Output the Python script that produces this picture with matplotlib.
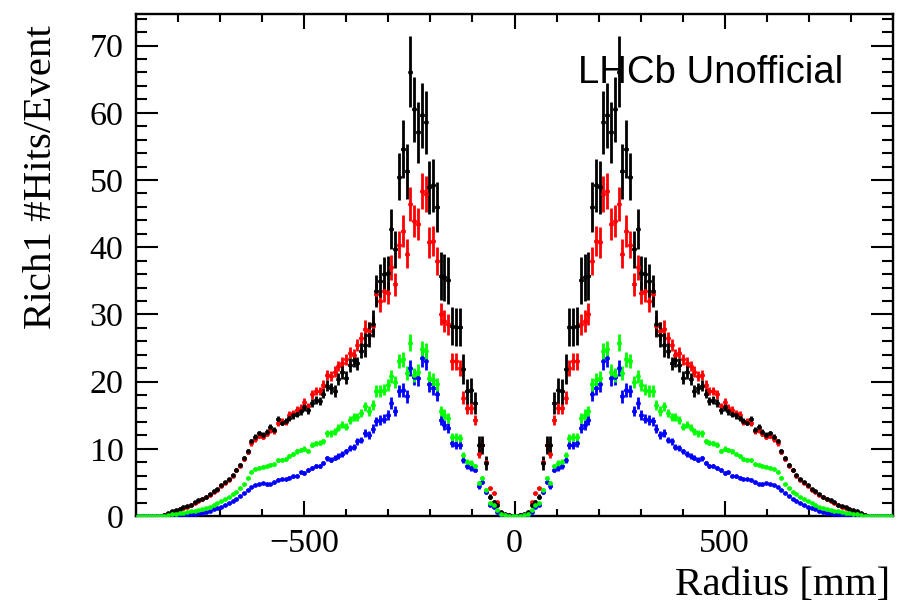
import numpy as np
import matplotlib
matplotlib.use("Agg")
import matplotlib.pyplot as plt
from matplotlib.ticker import MultipleLocator

# ---------------- data (Rich1 hits per event vs radius, 200 bins of 9 mm) ----------------
x_min, x_max, n_bins = -900.0, 900.0, 200

black_vals = [
    0, 0, 0, 0, 0, 0, 0, 0.1, 0.4, 0.7,
    0.9, 1.1, 1.3, 1.5, 1.7, 2.1, 2.4, 2.6, 2.9, 3.3,
    3.7, 4.0, 4.6, 5.1, 5.5, 6.1, 6.9, 7.6, 8.6, 9.6,
    11.1, 11.8, 12.3, 12.1, 12.5, 13.3, 12.8, 14.5, 13.9, 14.1,
    14.6, 15.0, 15.2, 15.6, 16.2, 15.7, 16.8, 17.3, 17.1, 18.2,
    19.4, 19.0, 18.6, 20.4, 21.4, 20.6, 22.5, 23.2, 22.7, 24.6,
    25.5, 27.0, 28.6, 33.5, 35.0, 36.0, 36.1, 42.7, 39.7, 50.5,
    54.6, 51.3, 66.1, 60.5, 57.1, 59.6, 58.6, 48.9, 49.2, 46.0,
    35.7, 35.5, 35.1, 28.3, 28.1, 28.1, 21.9, 18.6, 18.7, 16.8,
    10.6, 10.6, 7.9, 2.9, 2.1, 1.6, 0.6, 0.3, 0.1, 0.0,
    0.0, 0.1, 0.3, 0.6, 1.6, 2.1, 2.9, 7.9, 10.6, 10.6,
    16.8, 18.7, 18.6, 21.9, 28.1, 28.1, 28.3, 35.1, 35.5, 35.7,
    46.0, 49.2, 48.9, 58.6, 59.6, 57.1, 60.5, 66.1, 51.3, 54.6,
    50.5, 39.7, 42.7, 36.1, 36.0, 35.0, 33.5, 28.6, 27.0, 25.5,
    24.6, 22.7, 23.2, 22.5, 20.6, 21.4, 20.4, 18.6, 19.0, 19.4,
    18.2, 17.1, 17.3, 16.8, 15.7, 16.2, 15.6, 15.2, 15.0, 14.6,
    14.1, 13.9, 14.5, 12.8, 13.3, 12.5, 12.1, 12.3, 11.8, 11.1,
    9.6, 8.6, 7.6, 6.9, 6.1, 5.5, 5.1, 4.6, 4.0, 3.7,
    3.3, 2.9, 2.6, 2.4, 2.1, 1.7, 1.5, 1.3, 1.1, 0.9,
    0.7, 0.4, 0.1, 0, 0, 0, 0, 0, 0, 0,
]

red_vals = [
    0, 0, 0, 0, 0, 0, 0, 0.1, 0.3, 0.6,
    0.8, 1.0, 1.2, 1.4, 1.6, 1.9, 2.2, 2.5, 2.8, 3.1,
    3.5, 3.9, 4.4, 4.9, 5.4, 6.0, 6.8, 7.5, 8.5, 9.5,
    10.8, 11.4, 11.9, 11.8, 12.2, 12.8, 12.6, 13.8, 14.2, 14.0,
    15.1, 15.3, 15.8, 16.1, 17.0, 16.3, 18.1, 18.6, 18.6, 19.5,
    21.0, 20.8, 21.5, 22.3, 22.8, 23.3, 24.3, 24.0, 25.5, 26.5,
    27.8, 27.5, 28.3, 33.0, 32.0, 33.5, 33.2, 37.0, 34.5, 40.4,
    42.4, 39.0, 46.4, 43.9, 43.4, 48.4, 47.9, 40.7, 40.9, 38.0,
    30.1, 29.0, 28.5, 23.0, 23.0, 22.0, 17.6, 16.1, 16.1, 14.3,
    9.3, 10.6, 8.1, 4.1, 3.4, 2.1, 0.5, 0.2, 0.1, 0.0,
    0.0, 0.1, 0.2, 0.5, 2.1, 3.4, 4.1, 8.1, 10.6, 9.3,
    14.3, 16.1, 16.1, 17.6, 22.0, 23.0, 23.0, 28.5, 29.0, 30.1,
    38.0, 40.9, 40.7, 47.9, 48.4, 43.4, 43.9, 46.4, 39.0, 42.4,
    40.4, 34.5, 37.0, 33.2, 33.5, 32.0, 33.0, 28.3, 27.5, 27.8,
    26.5, 25.5, 24.0, 24.3, 23.3, 22.8, 22.3, 21.5, 20.8, 21.0,
    19.5, 18.6, 18.6, 18.1, 16.3, 17.0, 16.1, 15.8, 15.3, 15.1,
    14.0, 14.2, 13.8, 12.6, 12.8, 12.2, 11.8, 11.9, 11.4, 10.8,
    9.5, 8.5, 7.5, 6.8, 6.0, 5.4, 4.9, 4.4, 3.9, 3.5,
    3.1, 2.8, 2.5, 2.2, 1.9, 1.6, 1.4, 1.2, 1.0, 0.8,
    0.6, 0.3, 0.1, 0, 0, 0, 0, 0, 0, 0,
]

green_vals = [
    0, 0, 0, 0, 0, 0, 0, 0.05, 0.15, 0.25,
    0.3, 0.4, 0.5, 0.6, 0.7, 0.8, 0.9, 1.0, 1.2, 1.4,
    1.6, 1.9, 2.2, 2.5, 2.8, 3.2, 3.6, 4.1, 4.8, 5.7,
    6.6, 7.0, 7.2, 7.3, 7.4, 7.6, 7.7, 8.3, 8.4, 8.5,
    8.9, 9.2, 9.6, 9.8, 10.0, 9.7, 10.6, 10.8, 10.9, 11.1,
    12.3, 12.3, 12.6, 13.1, 13.6, 13.3, 14.3, 14.8, 14.8, 15.3,
    16.3, 15.6, 16.5, 18.6, 18.6, 18.8, 19.5, 20.8, 20.0, 23.0,
    23.3, 21.3, 25.8, 21.0, 21.5, 24.8, 24.5, 20.5, 20.3, 19.6,
    15.6, 15.1, 14.6, 11.8, 11.8, 11.6, 9.1, 8.1, 7.9, 7.4,
    4.9, 5.6, 3.9, 1.9, 1.6, 0.9, 0.3, 0.1, 0.05, 0.0,
    0.0, 0.05, 0.1, 0.3, 0.9, 1.6, 1.9, 3.9, 5.6, 4.9,
    7.4, 7.9, 8.1, 9.1, 11.6, 11.8, 11.8, 14.6, 15.1, 15.6,
    19.6, 20.3, 20.5, 24.5, 24.8, 21.5, 21.0, 25.8, 21.3, 23.3,
    23.0, 20.0, 20.8, 19.5, 18.8, 18.6, 18.6, 16.5, 15.6, 16.3,
    15.3, 14.8, 14.8, 14.3, 13.3, 13.6, 13.1, 12.6, 12.3, 12.3,
    11.1, 10.9, 10.8, 10.6, 9.7, 10.0, 9.8, 9.6, 9.2, 8.9,
    8.5, 8.4, 8.3, 7.7, 7.6, 7.4, 7.3, 7.2, 7.0, 6.6,
    5.7, 4.8, 4.1, 3.6, 3.2, 2.8, 2.5, 2.2, 1.9, 1.6,
    1.4, 1.2, 1.0, 0.9, 0.8, 0.7, 0.6, 0.5, 0.4, 0.3,
    0.25, 0.15, 0.05, 0, 0, 0, 0, 0, 0, 0,
]

blue_vals = [
    0, 0, 0, 0, 0, 0, 0, 0, 0.05, 0.1,
    0.12, 0.15, 0.18, 0.2, 0.25, 0.3, 0.4, 0.5, 0.6, 0.8,
    1.0, 1.2, 1.4, 1.6, 1.9, 2.2, 2.6, 3.0, 3.4, 3.9,
    4.3, 4.6, 4.8, 4.9, 4.7, 4.8, 5.0, 5.4, 5.5, 5.5,
    5.7, 5.9, 6.0, 6.5, 6.4, 6.8, 7.1, 7.4, 7.5, 7.9,
    8.6, 8.4, 8.7, 8.9, 9.2, 9.6, 10.1, 10.3, 11.1, 11.3,
    12.3, 12.1, 13.0, 14.1, 14.3, 14.5, 15.0, 16.8, 15.6, 18.6,
    18.8, 17.8, 22.0, 20.7, 20.5, 23.5, 23.0, 19.6, 19.0, 18.1,
    14.3, 13.6, 13.1, 10.8, 10.6, 10.6, 8.4, 7.4, 7.1, 6.9,
    4.4, 5.1, 3.6, 1.6, 1.4, 0.6, 0.2, 0.1, 0.05, 0.0,
    0.0, 0.05, 0.1, 0.2, 0.6, 1.4, 1.6, 3.6, 5.1, 4.4,
    6.9, 7.1, 7.4, 8.4, 10.6, 10.6, 10.8, 13.1, 13.6, 14.3,
    18.1, 19.0, 19.6, 23.0, 23.5, 20.5, 20.7, 22.0, 17.8, 18.8,
    18.6, 15.6, 16.8, 15.0, 14.5, 14.3, 14.1, 13.0, 12.1, 12.3,
    11.3, 11.1, 10.3, 10.1, 9.6, 9.2, 8.9, 8.7, 8.4, 8.6,
    7.9, 7.5, 7.4, 7.1, 6.8, 6.4, 6.5, 6.0, 5.9, 5.7,
    5.5, 5.5, 5.4, 5.0, 4.8, 4.7, 4.9, 4.8, 4.6, 4.3,
    3.9, 3.4, 3.0, 2.6, 2.2, 1.9, 1.6, 1.4, 1.2, 1.0,
    0.8, 0.6, 0.5, 0.4, 0.3, 0.25, 0.2, 0.18, 0.15, 0.12,
    0.1, 0.05, 0, 0, 0, 0, 0, 0, 0, 0,
]

# relative statistical error, one value per group of 10 bins
black_relerr = [0.05, 0.04, 0.035, 0.03, 0.035, 0.045, 0.07, 0.08, 0.10, 0.13,
                0.13, 0.10, 0.08, 0.07, 0.045, 0.035, 0.03, 0.035, 0.04, 0.05]
red_relerr = [0.05, 0.04, 0.035, 0.03, 0.035, 0.035, 0.05, 0.055, 0.055, 0.07,
              0.07, 0.055, 0.055, 0.05, 0.035, 0.035, 0.03, 0.035, 0.04, 0.05]
green_relerr = [0.05, 0.04, 0.035, 0.03, 0.035, 0.04, 0.045, 0.05, 0.05, 0.07,
                0.07, 0.05, 0.05, 0.045, 0.04, 0.035, 0.03, 0.035, 0.04, 0.05]
blue_relerr = [0.05, 0.04, 0.035, 0.035, 0.04, 0.045, 0.05, 0.055, 0.055, 0.07,
               0.07, 0.055, 0.055, 0.05, 0.045, 0.04, 0.035, 0.035, 0.04, 0.05]

x_label = "Radius [mm]"
y_label = "Rich1 #Hits/Event"
watermark = "LHCb Unofficial"

# ---------------- figure ----------------
W, H = 897, 603
fig = plt.figure(figsize=(W / 100, H / 100), dpi=100)
ax = fig.add_axes([136 / W, 87 / H, 757 / W, 502 / H])

edges = np.linspace(x_min, x_max, n_bins + 1)
centers = 0.5 * (edges[:-1] + edges[1:])
half_w = 0.5 * (edges[1] - edges[0])

series = [
    (red_vals, red_relerr, "#ff0000"),
    (black_vals, black_relerr, "#000000"),
    (blue_vals, blue_relerr, "#0000ff"),
    (green_vals, green_relerr, "#00ff00"),
]
for vals, rel, col in series:
    v = np.asarray(vals, dtype=float)
    e = v * np.repeat(rel, 10)
    ax.errorbar(centers, v, xerr=half_w, yerr=e, fmt="o", color=col,
                markersize=3.4, markeredgewidth=0, elinewidth=2.0,
                capsize=0, zorder=3, clip_on=True)

ax.set_xlim(x_min, x_max)
ax.set_ylim(0, 74.7)
ax.xaxis.set_major_locator(MultipleLocator(500))
ax.xaxis.set_minor_locator(MultipleLocator(100))
ax.yaxis.set_major_locator(MultipleLocator(10))
ax.yaxis.set_minor_locator(MultipleLocator(2))

ax.tick_params(which="both", direction="in", top=True, right=True,
               width=1.5, color="black")
ax.tick_params(axis="x", which="major", length=10.8, pad=9)
ax.tick_params(axis="x", which="minor", length=5.4)
ax.tick_params(axis="y", which="major", length=15.8, pad=9)
ax.tick_params(axis="y", which="minor", length=7.9)
for sp in ax.spines.values():
    sp.set_linewidth(1.7)

serif = "Liberation Serif"
for lab in ax.get_xticklabels() + ax.get_yticklabels():
    lab.set_fontfamily(serif)
    lab.set_fontsize(24.5)

fig.text(890 / W, 1 - 595 / H, x_label, ha="right", va="baseline",
         fontfamily=serif, fontsize=29.5)
fig.text(42 / W, 1 - 25 / H, y_label, ha="center", va="top", rotation=90,
         fontfamily=serif, fontsize=29.5)
fig.text(578 / W, 1 - 83 / H, watermark, ha="left", va="baseline",
         fontfamily="Liberation Sans", fontsize=27.5, color="black")

fig.savefig("out.png", dpi=100)
